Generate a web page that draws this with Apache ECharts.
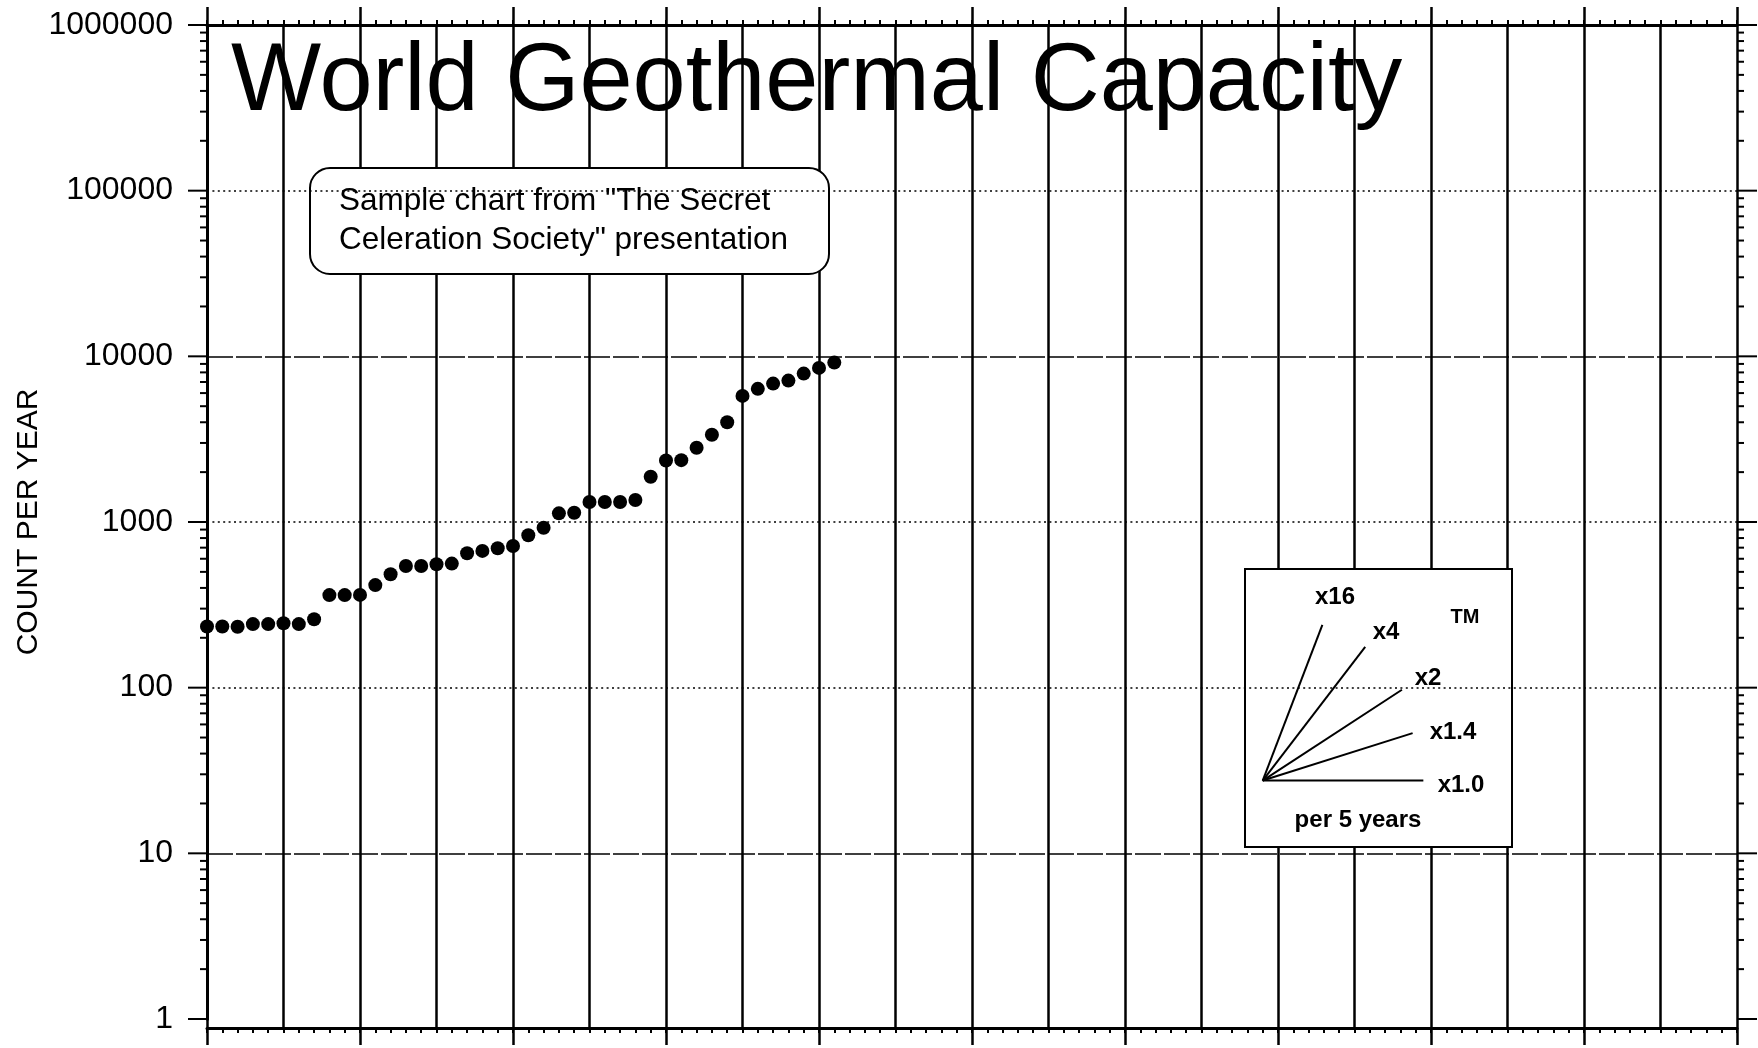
<!DOCTYPE html>
<html><head><meta charset="utf-8">
<script src="https://cdn.jsdelivr.net/npm/echarts@6/dist/echarts.min.js"></script>
<style>html,body{margin:0;padding:0;background:#fff}#c{width:1758px;height:1048px}</style>
</head><body><div id="c"></div>
<script>
// ---- data ----
const years = [0,1,2,3,4,5,6,7,8,9,10,11,12,13,14,15,16,17,18,19,20,21,22,23,24,25,26,27,28,29,30,31,32,33,34,35,36,37,38,39,40,41];
const counts = [234,234,233,242,242,245,242,259,362,362,363,416,484,543,543,556,561,648,669,695,717,832,924,1128,1137,1320,1320,1320,1357,1875,2353,2363,2806,3361,4003,5770,6363,6848,7139,7865,8513,9165];
const yTickValues = [1,10,100,1000,10000,100000,1000000];
const yTickLabels = ['1','10','100','1000','10000','100000','1000000'];
const gridLineValues = [10,100,1000,10000,100000];
const minorMultipliers = [2,3,4,5,6,7,8,9];
const celerationFactors = [16,4,2,1.4,1.0];
const celerationLabels = ['x16','x4','x2','x1.4','x1.0'];
const titleText = 'World Geothermal Capacity';
const noteLines = ['Sample chart from "The Secret', 'Celeration Society" presentation'];
const yAxisName = 'COUNT PER YEAR';
const fanCaption = 'per 5 years';

// ---- build ----
const FONT = '"Liberation Sans", Arial, Helvetica, sans-serif';
const K = '#000';
const chart = echarts.init(document.getElementById('c'), null, {renderer:'canvas'});

const points = years.map((x,i)=>[x, counts[i]]);
const tickVals = yTickValues.map(v=>[0, v, 1]);
for (let n=0;n<6;n++) minorMultipliers.forEach(m=>tickVals.push([0, m*Math.pow(10,n), 0]));

const dashPat = [26,3], dotPat = [2,3.4];
const lineType = v => (v===10 || v===10000) ? dashPat : dotPat;

const fanOrigin = [69, 27.5];
const fanRun = [3.9, 6.7, 9.1, 9.8, 10.5];
const fanSeries = celerationFactors.map((f,i)=>({
  type:'line', xAxisIndex:0, yAxisIndex:0, z:5, symbol:'none', silent:true, animation:false,
  lineStyle:{color:K, width:2},
  data:[fanOrigin, [fanOrigin[0]+fanRun[i], fanOrigin[1]*Math.pow(f, fanRun[i]/5)]]
}));

const xBase = {type:'value', min:0, max:100, gridIndex:0, axisLabel:{show:false}, splitLine:{show:false}};
const option = {
  backgroundColor:'#fff',
  animation:false,
  title:{text:titleText, left:226, top:31, textStyle:{fontFamily:FONT, fontSize:95.5, fontWeight:'normal', color:K}},
  grid:{left:207, right:21, top:25, bottom:29, containLabel:false, outerBoundsMode:'none'},
  xAxis:[
    Object.assign({}, xBase, {position:'bottom', offset:9, interval:5,
      axisLine:{show:true, lineStyle:{color:K, width:3}},
      axisTick:{show:true, length:5, lineStyle:{color:K, width:2}},
      minorTick:{show:true, splitNumber:5, length:5, lineStyle:{color:K, width:2}},
      splitLine:{show:true, lineStyle:{color:K, width:2.5}}}),
    Object.assign({}, xBase, {position:'bottom', offset:9, interval:10,
      axisLine:{show:false}, axisTick:{show:true, length:17, lineStyle:{color:K, width:2.5}}}),
    Object.assign({}, xBase, {position:'bottom', offset:0, interval:5,
      axisLine:{show:false}, axisTick:{show:true, length:9, lineStyle:{color:K, width:2.5}}}),
    Object.assign({}, xBase, {position:'top', interval:5,
      axisLine:{show:true, lineStyle:{color:K, width:3}},
      axisTick:{show:true, length:5, lineStyle:{color:K, width:2}},
      minorTick:{show:true, splitNumber:5, length:5, lineStyle:{color:K, width:2}}}),
    Object.assign({}, xBase, {position:'top', interval:10,
      axisLine:{show:false}, axisTick:{show:true, length:18, lineStyle:{color:K, width:2.5}}})
  ],
  yAxis:[
    {type:'log', logBase:10, min:1, max:1000000, position:'left',
      name:yAxisName, nameLocation:'middle', nameRotate:90, nameGap:163, nameMoveOverlap:false,
      nameTextStyle:{fontFamily:FONT, fontSize:30, color:K},
      axisLine:{show:true, lineStyle:{color:K, width:3}},
      axisTick:{show:false},
      axisLabel:{show:true, margin:34, fontFamily:FONT, fontSize:32, color:K,
        formatter:v=>{const i=yTickValues.indexOf(Math.round(v)); return i>=0?yTickLabels[i]:'';}},
      splitLine:{show:false}, minorTick:{show:false}},
    {type:'log', logBase:10, min:1, max:1000000, position:'right',
      axisLine:{show:true, lineStyle:{color:K, width:3}},
      axisTick:{show:false},
      axisLabel:{show:false}, splitLine:{show:false}}
  ],
  graphic:{elements:[
    {type:'rect', z:1.5, shape:{x:310, y:168, width:519, height:106, r:20}, style:{fill:'#fff', stroke:K, lineWidth:2}},
    {type:'text', z:1.6, x:339, y:201, style:{text:noteLines[0], font:'31.5px '+FONT, fill:K, verticalAlign:'middle'}},
    {type:'text', z:1.6, x:339, y:240, style:{text:noteLines[1], font:'31.5px '+FONT, fill:K, verticalAlign:'middle'}},
    {type:'rect', z:1.5, shape:{x:1245, y:569, width:267, height:278}, style:{fill:'#fff', stroke:K, lineWidth:2}},
    {type:'text', z:1.6, x:1335, y:597, style:{text:celerationLabels[0], font:'bold 24px '+FONT, fill:K, align:'center', verticalAlign:'middle'}},
    {type:'text', z:1.6, x:1386, y:632, style:{text:celerationLabels[1], font:'bold 24px '+FONT, fill:K, align:'center', verticalAlign:'middle'}},
    {type:'text', z:1.6, x:1428, y:678, style:{text:celerationLabels[2], font:'bold 24px '+FONT, fill:K, align:'center', verticalAlign:'middle'}},
    {type:'text', z:1.6, x:1453, y:732, style:{text:celerationLabels[3], font:'bold 24px '+FONT, fill:K, align:'center', verticalAlign:'middle'}},
    {type:'text', z:1.6, x:1461, y:785, style:{text:celerationLabels[4], font:'bold 24px '+FONT, fill:K, align:'center', verticalAlign:'middle'}},
    {type:'text', z:1.6, x:1465, y:617, style:{text:'TM', font:'bold 20px '+FONT, fill:K, align:'center', verticalAlign:'middle'}},
    {type:'text', z:1.6, x:1358, y:820, style:{text:fanCaption, font:'bold 24px '+FONT, fill:K, align:'center', verticalAlign:'middle'}}
  ]},
  series:[
    {type:'line', xAxisIndex:0, yAxisIndex:0, z:1, data:[], silent:true,
      markLine:{silent:true, symbol:['none','none'], label:{show:false}, animation:false,
        data:gridLineValues.map(v=>({yAxis:v, lineStyle:{color:K, width:1.7, type:lineType(v)}}))}},
    {type:'custom', xAxisIndex:0, yAxisIndex:0, z:3, silent:true, clip:false, data:tickVals,
      renderItem:(params, api)=>{
        const v = api.value(1), major = api.value(2) === 1;
        const pL = api.coord([0, v]), pR = api.coord([100, v]);
        const lenL = major ? 19 : 7, lenR = major ? 20 : 7;
        return {type:'group', children:[
          {type:'line', shape:{x1:pL[0]-lenL, y1:pL[1], x2:pL[0], y2:pL[1]}, style:{stroke:K, lineWidth:2}},
          {type:'line', shape:{x1:pR[0], y1:pR[1], x2:pR[0]+lenR, y2:pR[1]}, style:{stroke:K, lineWidth:2}}
        ]};
      }},
    {type:'scatter', xAxisIndex:0, yAxisIndex:0, z:4, symbol:'circle', symbolSize:14,
      itemStyle:{color:K, opacity:1}, data:points}
  ].concat(fanSeries)
};
chart.setOption(option);
</script>
</body></html>
